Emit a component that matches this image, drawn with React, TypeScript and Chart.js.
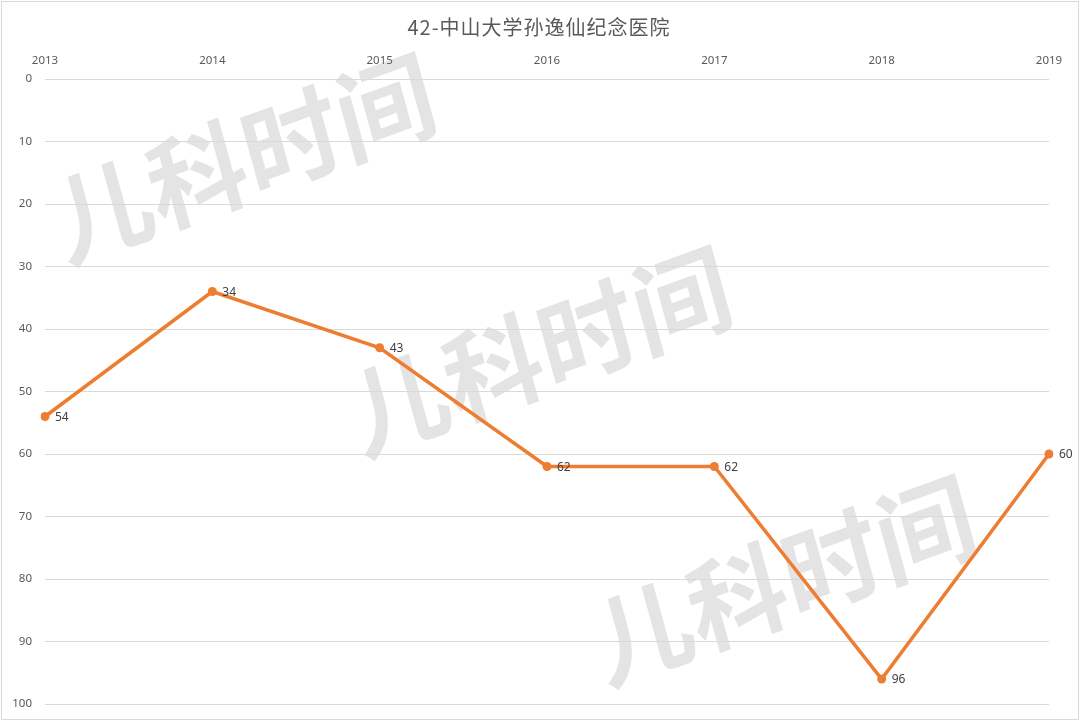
import React, { useEffect, useRef } from "react";
import { Chart, registerables } from "chart.js";

Chart.register(...registerables);

const TITLE = "42-中山大学孙逸仙纪念医院";
const WATERMARK = "儿科时间";
const years = ["2013", "2014", "2015", "2016", "2017", "2018", "2019"];
const ranks = [54, 34, 43, 62, 62, 96, 60];
const watermarkSpots = [
  [244, 158],
  [540, 351],
  [784, 580],
];

const ORANGE = "#ED7D31";
const TEXT = "#595959";

const decorPlugin = {
  id: "decor",
  beforeDraw(chart: any) {
    const ctx = chart.ctx;
    ctx.save();
    ctx.fillStyle = "#ffffff";
    ctx.fillRect(0, 0, chart.width, chart.height);
    // watermark
    ctx.fillStyle = "rgba(0,0,0,0.105)";
    ctx.font = '700 100px "Noto Sans CJK SC"';
    ctx.textAlign = "center";
    ctx.textBaseline = "middle";
    for (const [cx, cy] of watermarkSpots) {
      ctx.save();
      ctx.translate(cx, cy);
      ctx.rotate((-20 * Math.PI) / 180);
      ctx.transform(1, 0, -0.08, 1, 0, 0);
      ctx.fillText(WATERMARK, 0, 0);
      ctx.restore();
    }
    ctx.restore();
  },
  afterDatasetsDraw(chart: any) {
    const ctx = chart.ctx;
    const meta = chart.getDatasetMeta(0);
    ctx.save();
    ctx.font = '12px "Noto Sans"';
    ctx.fillStyle = "#404040";
    ctx.textAlign = "left";
    ctx.textBaseline = "middle";
    meta.data.forEach((pt: any, i: number) => {
      ctx.fillText(String(ranks[i]), pt.x + 10, pt.y + 1);
    });
    ctx.restore();
  },
  afterDraw(chart: any) {
    const ctx = chart.ctx;
    ctx.save();
    ctx.font = '20px "Noto Sans CJK SC"';
    ctx.fillStyle = TEXT;
    ctx.textAlign = "center";
    ctx.textBaseline = "middle";
    try {
      (ctx as any).letterSpacing = "1px";
    } catch (e) {}
    ctx.fillText(TITLE, 539, 27);
    ctx.restore();
    ctx.save();
    ctx.strokeStyle = "#d9d9d9";
    ctx.lineWidth = 1;
    ctx.strokeRect(1.5, 1.5, 1077, 718);
    ctx.restore();
  },
};

export default function App() {
  const ref = useRef<HTMLCanvasElement | null>(null);
  useEffect(() => {
    document.body.style.margin = "0";
    const canvas = ref.current!;
    const chart = new Chart(canvas, {
      type: "line",
      data: {
        labels: years,
        datasets: [
          {
            data: ranks,
            borderColor: ORANGE,
            backgroundColor: ORANGE,
            borderWidth: 3.5,
            pointRadius: 4.5,
            pointBorderWidth: 0,
            pointBackgroundColor: ORANGE,
            tension: 0,
          },
        ],
      },
      options: {
        responsive: false,
        animation: false,
        devicePixelRatio: 1,
        layout: { padding: { top: 0, left: 0, right: 31, bottom: 17 } },
        plugins: {
          legend: { display: false },
          title: { display: false },
          tooltip: { enabled: false },
        },
        scales: {
          x: {
            type: "category",
            position: "top",
            offset: false,
            grid: { display: false, drawTicks: false },
            border: { display: false },
            ticks: {
              color: TEXT,
              font: { family: "Noto Sans", size: 11.5 },
              padding: 11,
              maxRotation: 0,
              autoSkip: false,
            },
            afterFit(scale: any) {
              scale.height = 79;
            },
          },
          y: {
            reverse: true,
            min: 0,
            max: 100,
            grid: { color: "#d9d9d9", lineWidth: 1, drawTicks: false },
            border: { display: false },
            ticks: {
              stepSize: 10,
              color: TEXT,
              font: { family: "Noto Sans", size: 11.5 },
              padding: 13,
            },
            afterFit(scale: any) {
              scale.width = 45;
              scale.paddingTop = 0;
              scale.paddingBottom = 0;
            },
          },
        },
      },
      plugins: [decorPlugin],
    });
    return () => chart.destroy();
  }, []);
  return (
    <div style={{ position: "fixed", left: 0, top: 0, width: 1080, height: 721 }}>
      <canvas ref={ref} width={1080} height={721} style={{ display: "block" }} />
    </div>
  );
}
